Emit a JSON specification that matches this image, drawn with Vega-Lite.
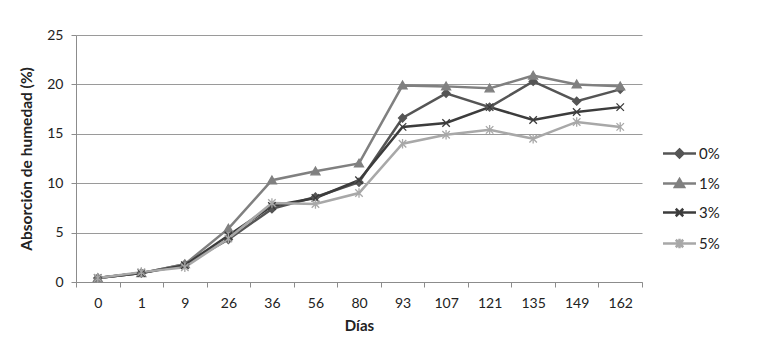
{
  "$schema": "https://vega.github.io/schema/vega-lite/v6.json",
  "width": 566,
  "height": 247,
  "autosize": {"type": "none"},
  "padding": {"left": 76, "top": 35, "right": 117, "bottom": 75},
  "background": "white",
  "config": {
    "view": {"stroke": null},
    "font": "Lato",
    "axis": {"labelFont": "Lato", "titleFont": "Lato", "labelColor": "#222", "titleColor": "#222"},
    "legend": {"labelFont": "Lato"}
  },
  "data": {
    "values": [
      {"dia": 0, "serie": "0%", "valor": 0.4}, {"dia": 1, "serie": "0%", "valor": 0.9}, {"dia": 9, "serie": "0%", "valor": 1.8}, {"dia": 26, "serie": "0%", "valor": 4.3}, {"dia": 36, "serie": "0%", "valor": 7.4}, {"dia": 56, "serie": "0%", "valor": 8.6}, {"dia": 80, "serie": "0%", "valor": 10.1}, {"dia": 93, "serie": "0%", "valor": 16.6}, {"dia": 107, "serie": "0%", "valor": 19.1}, {"dia": 121, "serie": "0%", "valor": 17.7}, {"dia": 135, "serie": "0%", "valor": 20.3}, {"dia": 149, "serie": "0%", "valor": 18.3}, {"dia": 162, "serie": "0%", "valor": 19.5},
      {"dia": 0, "serie": "1%", "valor": 0.4}, {"dia": 1, "serie": "1%", "valor": 0.9}, {"dia": 9, "serie": "1%", "valor": 1.8}, {"dia": 26, "serie": "1%", "valor": 5.4}, {"dia": 36, "serie": "1%", "valor": 10.3}, {"dia": 56, "serie": "1%", "valor": 11.2}, {"dia": 80, "serie": "1%", "valor": 12.0}, {"dia": 93, "serie": "1%", "valor": 19.9}, {"dia": 107, "serie": "1%", "valor": 19.8}, {"dia": 121, "serie": "1%", "valor": 19.6}, {"dia": 135, "serie": "1%", "valor": 20.9}, {"dia": 149, "serie": "1%", "valor": 20.0}, {"dia": 162, "serie": "1%", "valor": 19.8},
      {"dia": 0, "serie": "3%", "valor": 0.4}, {"dia": 1, "serie": "3%", "valor": 0.9}, {"dia": 9, "serie": "3%", "valor": 1.7}, {"dia": 26, "serie": "3%", "valor": 4.7}, {"dia": 36, "serie": "3%", "valor": 7.7}, {"dia": 56, "serie": "3%", "valor": 8.5}, {"dia": 80, "serie": "3%", "valor": 10.3}, {"dia": 93, "serie": "3%", "valor": 15.7}, {"dia": 107, "serie": "3%", "valor": 16.1}, {"dia": 121, "serie": "3%", "valor": 17.7}, {"dia": 135, "serie": "3%", "valor": 16.4}, {"dia": 149, "serie": "3%", "valor": 17.2}, {"dia": 162, "serie": "3%", "valor": 17.7},
      {"dia": 0, "serie": "5%", "valor": 0.4}, {"dia": 1, "serie": "5%", "valor": 1.0}, {"dia": 9, "serie": "5%", "valor": 1.5}, {"dia": 26, "serie": "5%", "valor": 4.4}, {"dia": 36, "serie": "5%", "valor": 8.0}, {"dia": 56, "serie": "5%", "valor": 7.9}, {"dia": 80, "serie": "5%", "valor": 9.0}, {"dia": 93, "serie": "5%", "valor": 14.0}, {"dia": 107, "serie": "5%", "valor": 14.9}, {"dia": 121, "serie": "5%", "valor": 15.4}, {"dia": 135, "serie": "5%", "valor": 14.5}, {"dia": 149, "serie": "5%", "valor": 16.2}, {"dia": 162, "serie": "5%", "valor": 15.7}
    ]
  },
  "encoding": {
    "x": {
      "field": "dia", "type": "ordinal", "sort": "ascending",
      "scale": {"type": "band", "paddingInner": 0, "paddingOuter": 0},
      "axis": {
        "title": "Días", "titleFontSize": 15, "titleFontWeight": "bold", "titlePadding": 8,
        "labelAngle": 0, "labelFontSize": 14, "labelPadding": 9,
        "tickBand": "extent", "ticks": true, "tickSize": 5, "tickColor": "#8c8c8c",
        "domainColor": "#8c8c8c", "domainWidth": 1, "grid": false
      }
    },
    "y": {
      "field": "valor", "type": "quantitative",
      "scale": {"domain": [0, 25], "nice": false},
      "axis": {
        "title": "Absorción de humedad (%)", "titleFontSize": 15.5, "titleFontWeight": "bold", "titlePadding": 12,
        "values": [0, 5, 10, 15, 20, 25], "labelFontSize": 14, "labelPadding": 8,
        "tickSize": 5, "tickColor": "#8c8c8c", "domainColor": "#8c8c8c",
        "grid": true, "gridColor": "#9a9a9a", "gridWidth": 1
      }
    }
  },
  "layer": [
    {
      "mark": {"type": "line", "strokeWidth": 2.5},
      "encoding": {
        "color": {
          "field": "serie", "type": "nominal",
          "scale": {"domain": ["0%", "1%", "3%", "5%"], "range": ["#555555", "#808080", "#3c3c3c", "#a8a8a8"]},
          "legend": {
            "title": null, "orient": "none", "legendX": 596, "legendY": 111,
            "padding": 0, "symbolSize": 100, "symbolStrokeWidth": 2.5,
            "labelFontSize": 15, "labelOffset": 12, "rowPadding": 11, "labelColor": "#222",
            "encode": {
              "symbols": {
                "update": {
                  "shape": {"signal": "datum.value === '0%' ? 'M-3.3,0L3.3,0M0,-0.8L0.8,0L0,0.8L-0.8,0Z' : datum.value === '1%' ? 'M-3.3,0L3.3,0M0,-0.85L0.9,0.7L-0.9,0.7Z' : datum.value === '3%' ? 'M-3.3,0L3.3,0M-0.75,-0.75L0.75,0.75M-0.75,0.75L0.75,-0.75' : 'M-3.3,0L3.3,0M-0.75,-0.75L0.75,0.75M-0.75,0.75L0.75,-0.75M0,-0.95L0,0.95'"},
                  "fill": {"scale": "color", "field": "value"},
                  "stroke": {"scale": "color", "field": "value"},
                  "strokeWidth": {"value": 2.5},
                  "opacity": {"value": 1}
                }
              }
            }
          }
        }
      }
    },
    {
      "transform": [{"filter": "datum.serie === '0%'"}],
      "mark": {"type": "point", "size": 100, "strokeWidth": 1.3, "opacity": 1, "shape": "M0,-0.8L0.8,0L0,0.8L-0.8,0Z", "fill": "#555555", "stroke": "#555555", "filled": true},
      "encoding": {}
    },
    {
      "transform": [{"filter": "datum.serie === '1%'"}],
      "mark": {"type": "point", "size": 100, "strokeWidth": 1.3, "opacity": 1, "shape": "M0,-0.85L0.9,0.7L-0.9,0.7Z", "fill": "#808080", "stroke": "#808080", "filled": true},
      "encoding": {}
    },
    {
      "transform": [{"filter": "datum.serie === '3%'"}],
      "mark": {"type": "point", "size": 100, "strokeWidth": 1.3, "opacity": 1, "shape": "M-0.75,-0.75L0.75,0.75M-0.75,0.75L0.75,-0.75", "fill": "#3c3c3c", "stroke": "#3c3c3c", "filled": true},
      "encoding": {}
    },
    {
      "transform": [{"filter": "datum.serie === '5%'"}],
      "mark": {"type": "point", "size": 100, "strokeWidth": 1.3, "opacity": 1, "shape": "M-0.75,-0.75L0.75,0.75M-0.75,0.75L0.75,-0.75M0,-0.95L0,0.95", "fill": "#a8a8a8", "stroke": "#a8a8a8", "filled": true},
      "encoding": {}
    }
  ]
}
